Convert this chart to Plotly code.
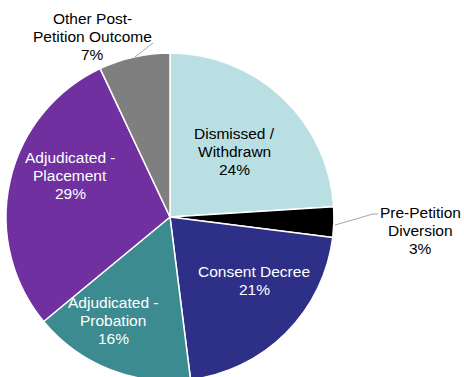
import plotly.graph_objects as go

# Case outcomes share
labels = ["Dismissed / Withdrawn", "Pre-Petition Diversion", "Consent Decree",
          "Adjudicated - Probation", "Adjudicated - Placement",
          "Other Post-Petition Outcome"]
label_lines = [["Dismissed /", "Withdrawn"], ["Pre-Petition", "Diversion"],
               ["Consent Decree"], ["Adjudicated -", "Probation"],
               ["Adjudicated -", "Placement"], ["Other Post-", "Petition Outcome"]]
values = [24, 3, 21, 16, 29, 7]
colors = ["#B9DFE3", "#000000", "#2E2F87", "#3C8B90", "#7030A0", "#7F7F7F"]
text_colors = ["#000000", "#000000", "#FFFFFF", "#FFFFFF", "#FFFFFF", "#000000"]

W, H = 464, 381

def px(x, y):
    return x / W, 1 - y / H

# pie geometry in pixels
cx, cy, r = 170, 217, 164

fig = go.Figure(go.Pie(
    labels=labels,
    values=values,
    sort=False,
    direction="clockwise",
    rotation=0,
    marker=dict(colors=colors, line=dict(color="#FFFFFF", width=1.5)),
    textinfo="none",
    hoverinfo="label+percent",
    domain=dict(x=[(cx - r) / W, (cx + r) / W], y=[(H - cy - r) / H, (H - cy + r) / H]),
    showlegend=False,
))

# label block: horizontal centre and first-line centre (pixels)
label_pos = [(234, 133), (420, 212.5), (254, 271), (113, 302.5), (70, 157.5), (92, 18)]
line_step = 18.2
FONT = "Liberation Sans, Arial, sans-serif"

annotations = []
for lines, val, col, (x, y) in zip(label_lines, values, text_colors, label_pos):
    for i, line in enumerate(lines + [f"{val}%"]):
        ax, ay = px(x, y + i * line_step)
        annotations.append(dict(
            x=ax, y=ay, xref="paper", yref="paper",
            text=line, showarrow=False,
            font=dict(family=FONT, size=15.5, color=col),
            xanchor="center", yanchor="middle", align="center",
        ))

# leader lines for outside labels
leaders = [
    [(335, 225), (373, 214), (378, 214)],
    [(135, 57), (153, 43)],
]
shapes = []
for pts in leaders:
    for (x0, y0), (x1, y1) in zip(pts[:-1], pts[1:]):
        a0, b0 = px(x0, y0)
        a1, b1 = px(x1, y1)
        shapes.append(dict(type="line", xref="paper", yref="paper",
                           x0=a0, y0=b0, x1=a1, y1=b1,
                           line=dict(color="#A6A6A6", width=1)))

fig.update_layout(
    width=W, height=H,
    margin=dict(l=0, r=0, t=0, b=0),
    paper_bgcolor="#FFFFFF",
    plot_bgcolor="#FFFFFF",
    annotations=annotations,
    shapes=shapes,
)

fig.write_html("out.html", post_script="document.body.style.overflow='hidden';")
